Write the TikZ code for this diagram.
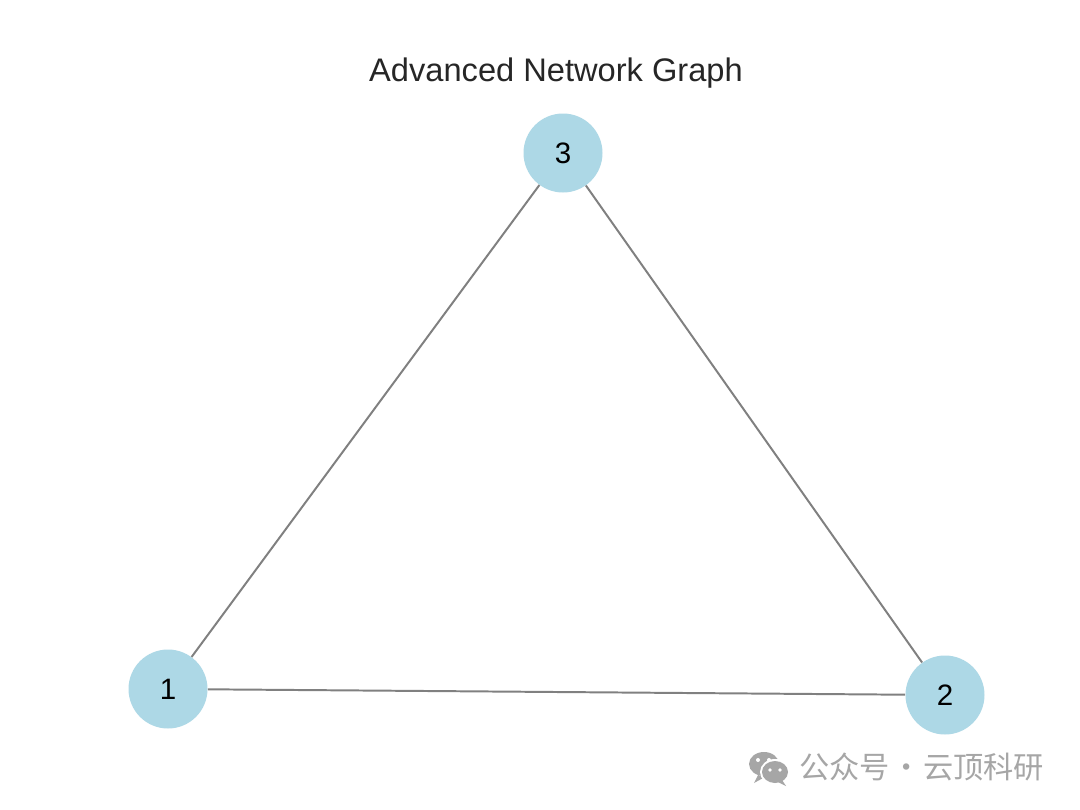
\documentclass[tikz,border=0pt]{standalone}
\usepackage{fontspec}
\setmainfont{Liberation Sans}
\newfontfamily\cjkfont{Noto Sans CJK SC}
\definecolor{nodeblue}{HTML}{ADD8E6}
\definecolor{edgegray}{HTML}{808080}
\definecolor{titlegray}{HTML}{262626}
\definecolor{wmgray}{HTML}{A6A6A6}
\begin{document}
\begin{tikzpicture}[x=0.025cm,y=-0.025cm,
  gnode/.style={circle,fill=nodeblue,draw=none,minimum size=79*0.025cm,inner sep=0pt,font=\fontsize{21}{24}\selectfont,text=black},
  gedge/.style={draw=edgegray,line width=1.4pt}]
\path[use as bounding box,fill=white] (0,0) rectangle (1080,810);
\node[text=titlegray,font=\fontsize{23.2}{26}\selectfont] (title) at (556,73) {Advanced Network Graph};
\node[gnode] (n1) at (168,689) {1};
\node[gnode] (n2) at (945,695) {2};
\node[gnode] (n3) at (563,153) {3};
\draw[gedge] (n1) -- (n3);
\draw[gedge] (n1) -- (n2);
\draw[gedge] (n3) -- (n2);
% watermark
\begin{scope}[wmgray]
\fill (764,764) ellipse (15 and 12);
\fill (758,775) -- (754,783) -- (765,777) -- cycle;
\fill[white] (775,772) ellipse (15 and 13);
\fill (775,772) ellipse (13 and 11);
\fill (782,780) -- (786,786) -- (778,782) -- cycle;
\fill[white] (758,760) circle (2);
\fill[white] (769,760) circle (2);
\fill[white] (770,770) circle (1.8);
\fill[white] (780,770) circle (1.8);
\end{scope}
\node[anchor=west,text=wmgray,font=\cjkfont\fontsize{21.5}{26}\selectfont,inner sep=0pt] (wm) at (799,767) {公众号\hspace{0.05em}·\hspace{0.05em}云顶科研};
\end{tikzpicture}
\end{document}
